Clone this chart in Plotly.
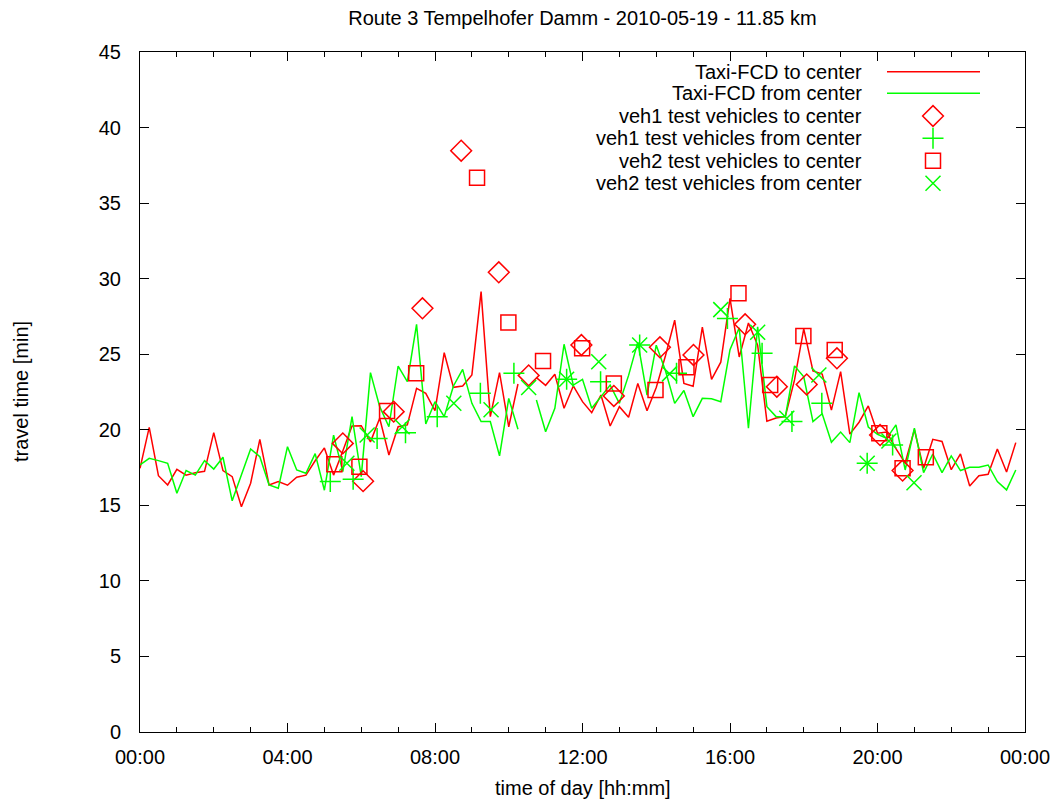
import numpy as np
import plotly.graph_objects as go

# ---------------- data ----------------
# Taxi-FCD travel times, one value every 15 minutes (00:00 .. 23:45); None = no data
fcd_times_h = list(np.arange(96) * 0.25)

fcd_to_center = [
    17.45, 20.16, 16.96, 16.35, 17.38, 17.00, 17.16, 17.25, 19.81, 17.30,
    16.90, 14.90, 16.46, 19.37, 16.35, 16.57, 16.33, 16.86, 17.00, 17.95,
    18.80, 17.00, 18.60, 20.25, 20.27, 19.20, 20.76, 18.33, 20.20, 20.32,
    22.74, 22.41, 21.26, 25.10, 22.81, 22.90, 23.63, 29.14, 20.87, 23.78,
    20.20, 23.03, None, 23.45, 22.94, 23.67, 21.42, 22.90, 21.86, 21.13,
    22.30, 20.25, 21.53, 20.83, 23.07, 21.26, 22.80, 24.90, 27.25, 23.07,
    22.88, 26.80, 23.34, 24.47, 28.70, 24.82, 27.07, 25.60, 20.57, 20.78,
    20.87, 23.30, 26.68, 23.90, 23.69, 21.30, 23.85, 19.71, 20.50, 21.58,
    19.77, 19.85, 18.75, 17.80, 20.00, 17.45, 19.37, 19.23, 17.36, 18.40,
    16.28, 16.96, 17.05, 18.73, 17.20, 19.15,
]

fcd_from_center = [
    17.67, 18.11, 17.96, 17.78, 15.80, 17.30, 17.00, 17.96, 17.40, 18.18,
    15.30, 17.00, 18.73, 18.22, 16.35, 16.13, 18.88, 17.34, 17.12, 18.42,
    16.00, 19.65, 17.23, 20.87, 16.90, 23.78, 21.53, 20.20, 24.22, 23.18,
    26.98, 20.38, 21.86, 20.87, 22.90, 24.00, 21.75, 20.54, 20.54, 18.27,
    22.08, 20.03, None, 21.97, 19.87, 21.42, 25.66, 22.96, 23.34, 21.42,
    22.19, 22.96, 21.75, 23.60, 25.80, 22.30, 25.60, 23.90, 21.75, 22.60,
    20.87, 22.08, 22.05, 21.86, 25.30, 26.75, 20.10, 26.82, 21.53, 20.87,
    20.87, 24.23, 23.51, 20.54, 21.06, 19.18, 19.85, 19.15, 22.46, 20.18,
    19.70, 19.43, 20.32, 17.34, 20.10, 17.16, 18.40, 17.16, 18.27, 17.30,
    17.52, 17.52, 17.67, 16.57, 16.02, 17.34,
]

# test vehicle trips (start time in hours, travel time in minutes)
veh1_to_t = [5.50, 6.05, 6.88, 7.66, 8.71, 9.73, 10.54, 11.97, 12.85, 14.10,
             15.01, 16.41, 17.27, 18.08, 18.90, 20.07, 20.68]
veh1_to_v = [19.10, 16.60, 21.20, 28.04, 38.47, 30.42, 23.60, 25.61, 22.24, 25.46,
             24.95, 26.98, 22.85, 23.00, 24.73, 19.65, 17.30]

veh1_from_t = [5.16, 5.78, 6.43, 7.20, 8.06, 9.23, 10.14, 11.57, 12.49, 13.55,
               14.55, 15.93, 16.87, 17.68, 18.49, 19.72, 20.41]
veh1_from_v = [16.57, 16.72, 19.43, 19.81, 20.87, 22.41, 23.74, 23.34, 23.18, 25.61,
               23.74, 27.37, 25.06, 20.54, 21.75, 17.78, 19.00]

veh2_to_t = [5.27, 5.95, 6.70, 7.49, 9.14, 9.99, 10.93, 11.99, 12.85, 13.98,
             14.82, 16.23, 17.09, 17.99, 18.84, 20.05, 20.68, 21.31]
veh2_to_v = [17.72, 17.56, 21.24, 23.74, 36.68, 27.10, 24.55, 25.39, 23.07, 22.63,
             24.13, 29.03, 22.96, 26.20, 25.28, 19.77, 17.45, 18.18]

veh2_from_t = [5.61, 6.16, 7.11, 8.51, 9.52, 10.54, 11.57, 12.44, 13.55, 14.36,
               15.75, 16.75, 17.54, 18.41, 19.72, 20.31, 20.99]
veh2_from_v = [17.78, 19.65, 20.20, 21.75, 21.33, 22.80, 23.34, 24.50, 25.61, 23.70,
               27.95, 26.45, 20.76, 23.63, 17.78, 19.26, 16.50]

x_tick_vals = [0, 4, 8, 12, 16, 20, 24]
x_tick_text = ["00:00", "04:00", "08:00", "12:00", "16:00", "20:00", "00:00"]
y_tick_vals = [0, 5, 10, 15, 20, 25, 30, 35, 40, 45]

series_names = [
    "Taxi-FCD to center",
    "Taxi-FCD from center",
    "veh1 test vehicles to center",
    "veh1 test vehicles from center",
    "veh2 test vehicles to center",
    "veh2 test vehicles from center",
]

# ---------------- styles ----------------
RED = "#ff0000"
GREEN = "#00ff00"
FONT = "Liberation Sans, Arial, Helvetica, sans-serif"
FS = 20

W, H = 1054, 799
L, R, T, B = 140, 29, 52, 67
PW, PH = W - L - R, H - T - B

def px_x(px):
    return (px - L) / PW

def px_y(py):
    return (H - B - py) / PH

fig = go.Figure()

fig.add_trace(go.Scatter(x=fcd_times_h, y=fcd_to_center, mode="lines",
                         line=dict(color=RED, width=1.5), connectgaps=False,
                         name=series_names[0], showlegend=False))
fig.add_trace(go.Scatter(x=fcd_times_h, y=fcd_from_center, mode="lines",
                         line=dict(color=GREEN, width=1.5), connectgaps=False,
                         name=series_names[1], showlegend=False))

sym = dict(
    veh1_to=dict(symbol="diamond-open", size=16, color=RED),
    veh1_from=dict(symbol="cross-thin-open", size=15, color=GREEN),
    veh2_to=dict(symbol="square-open", size=15, color=RED),
    veh2_from=dict(symbol="x-thin-open", size=15, color=GREEN),
)

def mk(s):
    return dict(symbol=s["symbol"], size=s["size"], color=s["color"],
                line=dict(color=s["color"], width=1.5))

fig.add_trace(go.Scatter(x=veh1_to_t, y=veh1_to_v, mode="markers",
                         marker=mk(sym["veh1_to"]), name=series_names[2], showlegend=False))
fig.add_trace(go.Scatter(x=veh1_from_t, y=veh1_from_v, mode="markers",
                         marker=mk(sym["veh1_from"]), name=series_names[3], showlegend=False))
fig.add_trace(go.Scatter(x=veh2_to_t, y=veh2_to_v, mode="markers",
                         marker=mk(sym["veh2_to"]), name=series_names[4], showlegend=False))
fig.add_trace(go.Scatter(x=veh2_from_t, y=veh2_from_v, mode="markers",
                         marker=mk(sym["veh2_from"]), name=series_names[5], showlegend=False))

# ---------------- gnuplot-like key (text right, sample left) ----------------
key_rows_py = [71.7, 93.3, 116.0, 138.3, 160.7, 183.3]
key_text_right = px_x(864)
key_line_x0, key_line_x1 = px_x(887), px_x(980)
key_mark_x = px_x(933)
annotations = []
shapes = []
for i, name in enumerate(series_names):
    annotations.append(dict(x=key_text_right, y=px_y(key_rows_py[i]), xref="paper", yref="paper",
                            text=name, showarrow=False, xanchor="right", yanchor="middle",
                            font=dict(family=FONT, size=FS, color="black")))
for i, c in enumerate([RED, GREEN]):
    shapes.append(dict(type="line", xref="paper", yref="paper",
                       x0=key_line_x0, x1=key_line_x1,
                       y0=px_y(key_rows_py[i]), y1=px_y(key_rows_py[i]),
                       line=dict(color=c, width=1.5)))
for i, k in enumerate(["veh1_to", "veh1_from", "veh2_to", "veh2_from"]):
    fig.add_trace(go.Scatter(x=[key_mark_x], y=[px_y(key_rows_py[i + 2])], mode="markers",
                             marker=mk(sym[k]), xaxis="x2", yaxis="y2",
                             showlegend=False, hoverinfo="skip"))

# axis titles
annotations.append(dict(x=0.5, y=px_y(788), xref="paper", yref="paper",
                        text="time of day [hh:mm]", showarrow=False,
                        xanchor="center", yanchor="middle",
                        font=dict(family=FONT, size=FS, color="black")))
annotations.append(dict(x=px_x(21), y=0.5, xref="paper", yref="paper",
                        text="travel time [min]", showarrow=False, textangle=-90,
                        xanchor="center", yanchor="middle",
                        font=dict(family=FONT, size=FS, color="black")))

fig.update_layout(
    template="none",
    width=W, height=H,
    margin=dict(l=L, r=R, t=T, b=B, autoexpand=False),
    paper_bgcolor="white", plot_bgcolor="white",
    font=dict(family=FONT, size=FS, color="black"),
    title=dict(text="Route 3 Tempelhofer Damm - 2010-05-19 - 11.85 km",
               x=0.5, xref="paper", y=1 - 18 / H, yref="container",
               xanchor="center", yanchor="middle",
               font=dict(family=FONT, size=FS, color="black")),
    showlegend=False,
    annotations=annotations,
    shapes=shapes,
    xaxis=dict(range=[0, 24], tickvals=x_tick_vals, ticktext=x_tick_text,
               automargin=False,
               showgrid=False, zeroline=False, showline=True, linecolor="black",
               linewidth=1, mirror="ticks", ticks="inside", ticklen=9,
               tickcolor="black", tickwidth=1, ticklabelstandoff=7,
               minor=dict(dtick=1, tick0=0, ticks="inside", ticklen=5,
                          tickcolor="black", tickwidth=1, showgrid=False)),
    yaxis=dict(range=[0, 45], tickvals=y_tick_vals, automargin=False,
               showgrid=False, zeroline=False, showline=True, linecolor="black",
               linewidth=1, mirror="ticks", ticks="inside", ticklen=9,
               tickcolor="black", tickwidth=1, ticklabelstandoff=14),
    xaxis2=dict(range=[0, 1], overlaying="x", visible=False, fixedrange=True,
                automargin=False),
    yaxis2=dict(range=[0, 1], overlaying="y", visible=False, fixedrange=True,
                automargin=False),
)

fig.write_html("out.html")
